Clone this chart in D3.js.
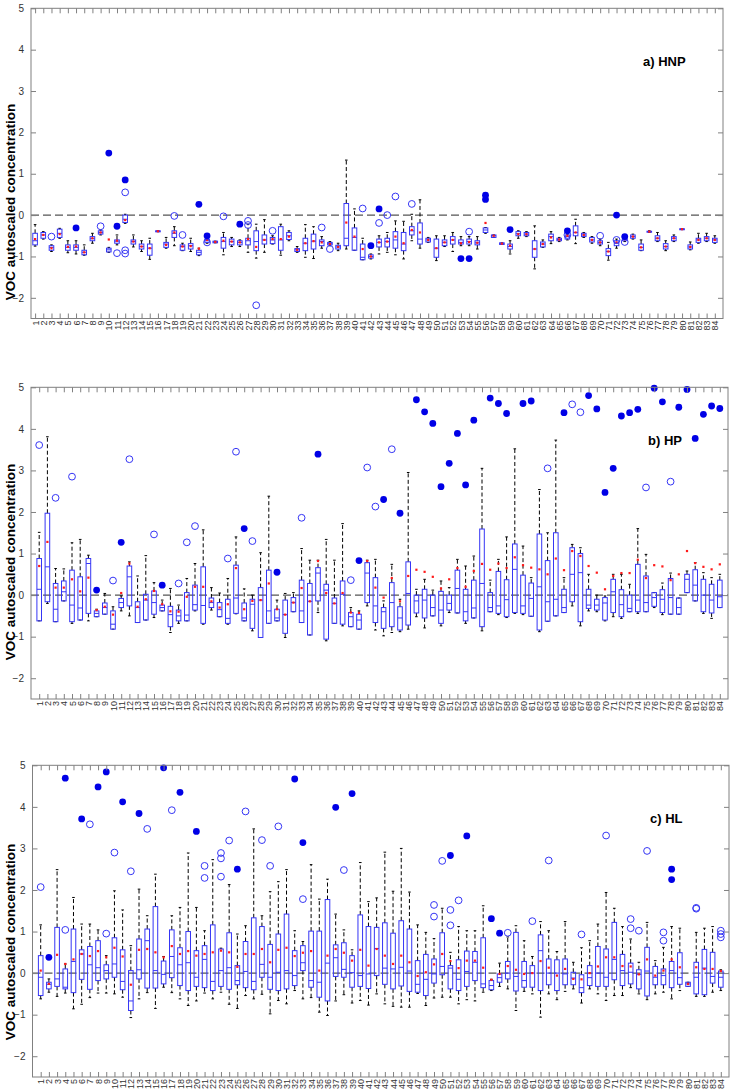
<!DOCTYPE html>
<html>
<head>
<meta charset="utf-8">
<script src="https://cdn.jsdelivr.net/npm/d3@7"></script>
<style>
  body { margin: 0; background: #fff; }
  svg { display: block; }
  text { font-family: "Liberation Sans", Arial, sans-serif; }
</style>
</head>
<body>
<svg id="chart" width="733" height="1092"></svg>
<script>
  // ============================================================
  // Data
  // ============================================================

  const categories = d3.range(1, 85);
  const yTicks = [-2, -1, 0, 1, 2, 3, 4, 5];

  // a) HNP
  const hnpLow = [-0.75,-0.58,-0.88,-0.56,-0.91,-0.94,-0.97,-0.68,-0.48,-0.90, -0.72,-0.20,-0.77,-0.88,-1.07,-0.40,-0.80,-0.74,-0.86,-0.88, -0.98,-0.68,-0.67,-0.96,-0.76,-0.76,-0.90,-1.04,-0.90,-0.70, -0.97,-0.62,-0.90,-1.02,-1.05,-0.80,-0.74,-0.86,-0.82,-0.85, -1.08,-1.06,-0.94,-0.90,-0.96,-1.06,-0.62,-0.80,-0.66,-1.10, -0.76,-0.88,-0.74,-0.74,-0.82,-0.44,-0.54,-0.71,-0.94,-0.56, -0.52,-1.30,-0.78,-0.69,-0.64,-0.60,-0.69,-0.54,-0.68,-0.74, -1.09,-0.80,-0.64,-0.58,-0.86,-0.42,-0.64,-0.86,-0.64,-0.35, -0.84,-0.68,-0.64,-0.68];
  const hnpQ1 = [-0.72,-0.56,-0.85,-0.54,-0.85,-0.85,-0.96,-0.62,-0.46,-0.89, -0.68,-0.18,-0.70,-0.82,-0.97,-0.39,-0.78,-0.54,-0.85,-0.82, -0.96,-0.66,-0.67,-0.80,-0.72,-0.72,-0.72,-0.86,-0.70,-0.69, -0.85,-0.59,-0.88,-0.86,-0.82,-0.74,-0.72,-0.82,-0.74,-0.85, -1.08,-1.04,-0.77,-0.77,-0.80,-0.86,-0.48,-0.70,-0.65,-1.02, -0.74,-0.70,-0.70,-0.70,-0.72,-0.42,-0.54,-0.71,-0.82,-0.50, -0.50,-1.02,-0.77,-0.62,-0.62,-0.58,-0.50,-0.52,-0.65,-0.70, -0.98,-0.74,-0.62,-0.56,-0.85,-0.41,-0.62,-0.82,-0.62,-0.35, -0.82,-0.66,-0.62,-0.66];
  const hnpMedian = [-0.62,-0.48,-0.78,-0.44,-0.78,-0.78,-0.90,-0.57,-0.42,-0.84, -0.63,-0.10,-0.64,-0.76,-0.80,-0.39,-0.70,-0.44,-0.76,-0.74, -0.90,-0.62,-0.65,-0.64,-0.64,-0.66,-0.62,-0.64,-0.60,-0.60, -0.60,-0.50,-0.84,-0.68,-0.63,-0.64,-0.69,-0.77,-0.56,-0.54, -1.02,-1.00,-0.66,-0.64,-0.60,-0.70,-0.38,-0.58,-0.60,-0.80, -0.66,-0.60,-0.66,-0.64,-0.67,-0.36,-0.50,-0.69,-0.76,-0.45, -0.46,-0.82,-0.70,-0.52,-0.59,-0.52,-0.42,-0.48,-0.60,-0.66, -0.88,-0.68,-0.58,-0.52,-0.78,-0.40,-0.56,-0.76,-0.56,-0.34, -0.77,-0.60,-0.56,-0.60];
  const hnpQ3 = [-0.44,-0.42,-0.74,-0.34,-0.72,-0.72,-0.85,-0.52,-0.38,-0.80, -0.60,0.00,-0.60,-0.70,-0.70,-0.38,-0.66,-0.38,-0.72,-0.69, -0.85,-0.58,-0.63,-0.54,-0.58,-0.62,-0.56,-0.38,-0.48,-0.54, -0.28,-0.42,-0.81,-0.56,-0.46,-0.60,-0.66,-0.73,0.28,-0.31, -0.70,-0.96,-0.58,-0.56,-0.40,-0.42,-0.28,-0.19,-0.56,-0.58, -0.60,-0.52,-0.60,-0.58,-0.62,-0.31,-0.48,-0.67,-0.70,-0.40, -0.42,-0.62,-0.65,-0.46,-0.56,-0.48,-0.26,-0.44,-0.54,-0.62, -0.81,-0.62,-0.55,-0.48,-0.70,-0.39,-0.50,-0.69,-0.52,-0.33, -0.72,-0.56,-0.52,-0.56];
  const hnpHigh = [-0.23,-0.40,-0.72,-0.32,-0.62,-0.62,-0.72,-0.44,-0.36,-0.78, -0.48,0.02,-0.48,-0.62,-0.56,-0.38,-0.54,-0.28,-0.68,-0.56, -0.80,-0.56,-0.63,-0.42,-0.54,-0.60,-0.22,-0.22,-0.11,-0.50, -0.22,-0.38,-0.76,-0.23,-0.28,-0.52,-0.64,-0.68,1.33,0.15, -0.56,-0.94,-0.50,-0.42,-0.14,-0.15,0.02,0.37,-0.54,-0.50, -0.50,-0.42,-0.52,-0.52,-0.52,-0.30,-0.48,-0.67,-0.62,-0.38, -0.40,-0.26,-0.60,-0.40,-0.54,-0.46,-0.10,-0.42,-0.52,-0.58, -0.66,-0.58,-0.54,-0.46,-0.60,-0.38,-0.42,-0.62,-0.48,-0.33, -0.65,-0.44,-0.44,-0.50];
  const hnpMean = [-0.58,-0.48,-0.80,-0.46,-0.77,-0.76,-0.90,-0.56,-0.42,-0.59, -0.62,-0.12,-0.64,-0.76,-0.80,-0.39,-0.72,-0.42,-0.76,-0.75, -0.81,-0.60,-0.65,-0.62,-0.64,-0.66,-0.58,-0.77,-0.60,-0.58, -0.58,-0.52,-0.84,-0.68,-0.63,-0.66,-0.70,-0.77,-0.18,-0.52, -0.82,-1.00,-0.66,-0.64,-0.52,-0.68,-0.36,-0.42,-0.60,-0.80, -0.66,-0.60,-0.68,-0.65,-0.67,-0.19,-0.50,-0.69,-0.74,-0.46, -0.46,-0.82,-0.70,-0.54,-0.59,-0.50,-0.42,-0.48,-0.60,-0.66, -0.88,-0.66,-0.58,-0.52,-0.78,-0.40,-0.56,-0.76,-0.56,-0.34, -0.77,-0.60,-0.56,-0.60];
  const hnpOutliers = [[3,-0.52],[9,-0.27],[11,-0.92],[12,0.55],[12,-0.85],[12,-0.93],[18,-0.02],[19,-0.48],[22,-0.66],[24,-0.03],[27,-0.14],[27,-0.24],[28,-2.18],[30,-0.38],[36,-0.30],[37,-0.82],[41,0.16],[43,-0.19],[44,0.0],[45,0.45],[47,0.27],[54,-0.40],[66,-0.48],[70,-0.50],[72,-0.60],[73,-0.65]];
  const hnpExtremes = [[6,-0.31],[10,1.50],[11,-0.27],[12,0.85],[21,0.26],[22,-0.50],[26,-0.22],[42,-0.74],[43,0.15],[53,-1.05],[54,-1.05],[56,0.48],[56,0.38],[59,-0.35],[66,-0.38],[72,0.0],[73,-0.52]];

  // b) HP
  const hpLow = [-0.62,-0.20,-0.64,-0.14,-0.68,-0.60,-0.62,-0.52,-0.46,-0.82, -0.38,-0.50,-0.66,-0.60,-0.54,-0.38,-0.90,-0.68,-0.62,-0.38, -0.70,-0.36,-0.52,-0.70,-0.45,-0.62,-0.86,-1.02,-0.68,-0.62, -1.02,-0.40,-0.66,-0.96,-0.42,-1.10,-0.68,-0.74,-0.76,-0.82, -0.26,-0.84,-0.98,-0.90,-0.88,-0.82,-0.52,-0.79,-0.50,-0.74, -0.42,-0.43,-0.68,-0.55,-0.86,-0.40,-0.47,-0.54,-0.44,-0.47, -0.51,-0.88,-0.63,-0.50,-0.42,-0.26,-0.74,-0.38,-0.40,-0.62, -0.52,-0.56,-0.40,-0.44,-0.40,-0.30,-0.47,-0.46,-0.46,0.06, -0.14,-0.44,-0.56,-0.30];
  const hpQ1 = [-0.62,-0.16,-0.64,-0.14,-0.64,-0.60,-0.44,-0.52,-0.46,-0.82, -0.30,-0.26,-0.66,-0.60,-0.46,-0.38,-0.76,-0.62,-0.62,-0.36, -0.68,-0.30,-0.52,-0.68,-0.44,-0.62,-0.80,-1.02,-0.68,-0.62, -0.92,-0.40,-0.66,-0.96,-0.14,-1.06,-0.68,-0.70,-0.76,-0.82, -0.18,-0.66,-0.80,-0.76,-0.84,-0.72,-0.43,-0.55,-0.50,-0.68, -0.36,-0.43,-0.62,-0.55,-0.76,-0.40,-0.44,-0.52,-0.42,-0.44, -0.51,-0.84,-0.63,-0.50,-0.42,-0.16,-0.64,-0.32,-0.36,-0.60, -0.42,-0.52,-0.40,-0.40,-0.40,-0.27,-0.42,-0.46,-0.46,0.06, -0.14,-0.40,-0.43,-0.30];
  const hpMedian = [0.14,0.68,-0.34,0.08,-0.24,-0.31,0.76,-0.44,-0.30,-0.70, -0.18,0.44,-0.30,-0.12,-0.18,-0.30,-0.47,-0.50,-0.48,-0.23, -0.25,-0.18,-0.35,-0.56,-0.07,-0.55,-0.22,-0.12,-0.38,-0.55, -0.47,-0.18,-0.38,-0.15,0.53,0.12,-0.20,0.02,-0.52,-0.60, 0.53,-0.26,-0.40,-0.18,-0.55,0.04,-0.14,-0.12,-0.30,-0.36, -0.20,0.16,-0.40,-0.31,0.28,-0.30,-0.26,-0.11,0.62,-0.26, -0.08,0.20,-0.16,-0.10,-0.30,0.50,0.54,-0.24,-0.24,-0.19, 0.08,-0.23,-0.32,-0.12,-0.18,-0.06,-0.10,-0.06,-0.30,0.38, 0.24,0.00,-0.12,-0.04];
  const hpQ3 = [0.88,1.97,0.28,0.34,0.60,0.44,0.88,-0.38,-0.19,-0.38, -0.08,0.70,-0.16,0.02,0.10,-0.24,-0.27,-0.36,0.06,0.24, 0.68,-0.07,-0.18,-0.10,0.72,-0.19,-0.10,0.18,0.60,-0.34, -0.12,-0.06,0.36,0.28,0.66,0.26,-0.07,0.34,-0.42,-0.46, 0.78,0.42,-0.30,0.30,-0.28,0.80,0.00,0.14,0.00,0.09, 0.00,0.60,0.14,0.36,1.59,0.06,0.57,0.37,1.23,0.48, 0.29,1.47,0.83,1.50,0.14,1.14,1.00,0.14,-0.10,-0.06, 0.38,0.13,0.00,0.74,0.46,0.06,0.13,0.40,-0.07,0.50, 0.61,0.38,0.26,0.36];
  const hpHigh = [1.51,3.81,0.64,0.63,1.26,1.34,0.96,-0.34,0.04,-0.28, -0.02,0.80,0.46,0.95,0.30,-0.12,0.16,-0.24,0.40,0.76, 1.57,0.18,0.05,0.40,1.40,0.15,0.00,1.02,2.38,-0.12, 0.04,0.06,1.12,0.84,0.84,1.34,0.84,1.72,-0.30,-0.38, 0.84,0.86,-0.14,0.74,-0.10,2.95,0.14,0.38,0.12,0.34, 0.18,0.86,0.70,0.94,3.05,0.36,0.86,1.40,3.52,1.18, 0.42,2.54,1.50,3.73,0.42,1.22,1.14,0.50,0.00,-0.02, 0.50,0.50,0.26,1.60,0.98,0.06,0.29,0.53,-0.07,0.58, 0.78,0.54,0.42,0.50];
  const hpMean = [0.70,1.28,0.18,0.18,0.38,0.09,0.42,-0.36,-0.28,-0.47, 0.05,0.76,-0.28,-0.10,0.10,-0.22,-0.39,-0.40,-0.04,0.20, 0.20,-0.15,-0.30,-0.22,0.65,-0.34,-0.14,-0.12,0.28,-0.34, -0.47,-0.18,0.17,-0.15,0.82,0.05,-0.20,0.05,-0.42,-0.43, 0.82,0.18,-0.06,0.41,-0.15,0.46,0.61,0.56,0.44,0.16, 0.38,0.65,0.20,0.58,0.75,0.61,0.76,0.65,0.91,0.72, 0.66,0.62,0.50,0.88,0.60,1.06,0.94,0.70,0.54,0.14, 0.46,0.53,0.53,0.85,0.41,0.72,0.69,0.36,0.50,1.06, 0.77,0.68,0.62,0.74];
  const hpOutliers = [[1,3.61],[3,2.34],[5,2.85],[10,0.35],[12,3.27],[15,1.46],[18,0.28],[19,1.27],[20,1.66],[24,0.88],[25,3.45],[27,1.30],[33,1.86],[39,0.36],[41,3.07],[42,2.13],[44,3.51],[63,3.05],[66,4.59],[67,4.40],[75,2.59],[78,2.73]];
  const hpExtremes = [[8,0.12],[11,1.27],[16,0.24],[26,1.60],[30,0.55],[35,3.39],[40,0.83],[43,2.30],[45,1.97],[47,4.70],[48,4.41],[49,4.13],[50,2.61],[51,3.17],[52,3.89],[53,2.65],[54,4.21],[56,4.74],[57,4.61],[58,4.37],[60,4.61],[61,4.67],[65,4.39],[68,4.80],[69,4.48],[70,2.47],[71,3.05],[72,4.31],[73,4.39],[74,4.47],[76,4.98],[77,4.65],[79,4.52],[80,4.95],[81,3.77],[82,4.35],[83,4.55],[84,4.49]];

  // c) HL
  const hlLow = [-0.62,-0.46,-0.56,-0.48,-0.86,-0.75,-0.59,-0.48,-0.48,-0.50, -0.58,-1.07,-0.62,-0.47,-0.85,-0.34,-0.47,-0.62,-0.78,-0.67, -0.48,-0.62,-0.46,-0.75,-0.85,-0.54,-0.62,-0.51,-0.98,-0.66, -0.74,-0.42,-0.62,-0.59,-0.94,-1.02,-0.67,-0.52,-0.72,-0.66, -0.77,-0.50,-0.74,-0.80,-0.82,-0.82,-0.49,-0.78,-0.60,-0.58, -0.58,-0.74,-0.64,-0.67,-0.46,-0.42,-0.32,-0.38,-0.90,-0.44, -0.50,-1.06,-0.50,-0.64,-0.44,-0.38,-0.72,-0.38,-0.50,-0.66, -0.54,-0.54,-0.35,-0.50,-0.64,-0.50,-0.46,-0.62,-0.42,-0.32, -0.56,-0.56,-0.46,-0.42];
  const hlQ1 = [-0.54,-0.38,-0.32,-0.38,-0.47,-0.15,-0.39,-0.18,-0.14,-0.10, -0.40,-0.90,-0.14,-0.36,-0.36,-0.26,-0.11,-0.30,-0.42,-0.32, -0.35,-0.42,-0.32,-0.39,-0.28,-0.35,-0.40,-0.10,-0.39,-0.42, -0.38,-0.30,0.06,-0.34,-0.58,-0.67,-0.08,-0.10,-0.34,-0.32, -0.37,-0.06,-0.27,-0.38,-0.31,-0.44,-0.46,-0.54,-0.24,-0.04, -0.38,-0.42,-0.32,-0.18,-0.35,-0.40,-0.22,-0.14,-0.43,-0.34, -0.34,-0.42,-0.28,-0.42,-0.28,-0.28,-0.47,-0.30,-0.32,-0.32, -0.16,-0.30,-0.26,-0.38,-0.55,-0.28,-0.28,-0.35,-0.27,-0.32, -0.50,-0.52,-0.24,-0.34];
  const hlMedian = [-0.10,-0.27,-0.14,-0.34,0.28,0.46,0.20,0.13,0.06,0.22, -0.20,-0.67,0.08,0.78,0.06,-0.03,0.40,0.20,0.25,-0.10, 0.33,-0.20,0.06,0.13,-0.18,0.04,-0.20,0.21,-0.10,0.02, 0.06,-0.06,0.25,-0.18,-0.22,0.24,0.37,0.09,0.01,-0.06, -0.02,0.59,0.12,0.10,0.14,0.05,-0.27,-0.15,-0.02,0.16, 0.12,-0.15,0.04,0.26,-0.26,-0.30,-0.11,0.00,-0.08,-0.18, 0.00,0.54,0.00,0.00,-0.02,-0.12,-0.35,-0.11,0.00,-0.10, 0.33,0.06,0.02,-0.03,0.05,-0.10,-0.06,0.06,-0.11,-0.26, -0.10,0.12,-0.08,-0.10];
  const hlQ3 = [0.42,-0.22,1.10,0.10,1.06,0.56,0.64,0.78,0.20,0.85, 0.56,0.06,0.82,1.06,1.60,0.29,1.04,0.61,1.00,0.54, 0.66,1.16,0.58,0.97,0.18,0.76,1.33,1.12,0.69,0.94, 1.42,0.54,0.66,1.01,1.01,1.77,0.68,0.73,0.42,1.40, 1.12,1.10,1.21,0.96,1.26,1.06,0.30,0.45,0.34,0.97, 0.18,0.32,0.53,0.52,0.85,-0.18,-0.02,0.28,0.98,0.28, 0.18,0.92,0.34,0.32,0.34,0.02,-0.04,0.18,0.64,0.58, 1.22,0.45,0.24,0.08,0.62,0.16,0.10,0.28,0.49,-0.22, 0.26,0.57,0.50,0.05];
  const hlHigh = [1.16,-0.14,2.49,0.22,1.82,1.18,1.18,1.04,0.42,1.98, 1.52,0.66,2.02,1.38,2.38,0.40,1.38,1.58,2.89,1.58, 1.02,2.73,0.60,2.13,0.94,1.14,3.47,1.38,1.96,2.20, 2.49,1.02,0.76,2.61,1.78,2.26,1.42,1.04,0.56,2.66, 1.72,1.81,2.91,1.97,3.00,1.95,1.16,0.98,0.83,1.56, 0.50,1.12,1.02,1.02,1.62,-0.15,0.24,0.87,1.14,0.78, 0.40,1.24,1.02,0.52,1.24,0.26,0.61,0.78,1.18,1.94, 1.56,1.12,0.82,0.26,1.22,0.30,0.62,1.12,1.08,-0.22, 0.98,1.08,1.12,0.08];
  const hlMean = [0.06,-0.26,0.44,0.22,0.33,0.46,0.41,0.53,0.38,0.61, 0.40,-0.28,0.56,0.58,0.50,0.38,0.65,0.46,0.53,0.42, 0.46,0.50,0.54,0.50,0.15,0.46,0.46,0.58,0.26,0.56, 0.61,0.41,0.49,0.53,0.06,0.42,0.58,0.49,0.30,0.56, 0.18,0.58,0.42,0.22,0.42,0.26,-0.07,0.02,0.21,0.46, 0.29,0.12,0.30,0.30,0.13,-0.16,-0.02,0.17,0.08,-0.02, 0.00,0.29,0.13,-0.06,0.10,-0.14,-0.15,0.00,0.16,0.38, 0.38,0.17,0.16,-0.03,0.33,-0.06,0.06,0.33,0.14,-0.26, 0.14,0.10,0.10,0.05];
  const hlOutliers = [[1,2.07],[4,1.04],[7,3.58],[9,0.95],[10,2.90],[12,2.45],[14,3.47],[17,3.92],[21,2.58],[21,2.29],[23,2.89],[23,2.76],[23,2.32],[24,3.19],[26,3.89],[28,3.20],[29,2.58],[30,3.53],[33,1.78],[38,2.48],[49,1.64],[49,1.36],[50,2.70],[51,1.52],[51,1.15],[52,1.75],[58,0.97],[61,1.25],[63,2.71],[67,0.93],[70,3.31],[73,1.30],[73,1.08],[74,1.02],[75,2.94],[77,0.98],[77,0.78],[81,1.57],[81,1.55],[84,1.02],[84,0.94],[84,0.86]];
  const hlExtremes = [[2,0.38],[4,4.69],[6,3.71],[8,4.48],[9,4.84],[11,4.12],[13,3.84],[16,4.94],[18,4.35],[20,3.41],[25,2.50],[32,4.67],[33,3.14],[37,3.99],[39,4.32],[51,2.83],[53,3.30],[56,1.31],[57,0.96],[78,2.50],[78,2.25]];

  // ============================================================
  // Layout
  // ============================================================

  const panels = [
    { title: "a) HNP", top: 8.3, bottom: 318.5, left: 31, right: 723, xDomain: [0.5, 85], titleX: 643, titleY: 66, labelY: 202,
      low: hnpLow, q1: hnpQ1, median: hnpMedian, q3: hnpQ3, high: hnpHigh, mean: hnpMean, outliers: hnpOutliers, extremes: hnpExtremes },
    { title: "b) HP", top: 387.3, bottom: 699, left: 31, right: 728, xDomain: [0, 85], titleX: 648, titleY: 445, labelY: 562,
      low: hpLow, q1: hpQ1, median: hpMedian, q3: hpQ3, high: hpHigh, mean: hpMean, outliers: hpOutliers, extremes: hpExtremes },
    { title: "c) HL", top: 765.3, bottom: 1077, left: 32.5, right: 729, xDomain: [0, 85], titleX: 650, titleY: 823, labelY: 942,
      low: hlLow, q1: hlQ1, median: hlMedian, q3: hlQ3, high: hlHigh, mean: hlMean, outliers: hlOutliers, extremes: hlExtremes },
  ];

  const boxColor = "#3535f5";
  const frameColor = "#808080";
  const boxHalf = 2.3;
  const capHalf = 1.3;

  const svg = d3.select("#chart");

  function drawPanel(p) {
    const x = d3.scaleLinear().domain(p.xDomain).range([p.left, p.right]);
    const y = d3.scaleLinear().domain([-2.5, 5]).range([p.bottom, p.top]);
    const g = svg.append("g");

    const stats = categories.map((c, i) => ({
      c, lo: p.low[i], q1: p.q1[i], med: p.median[i], q3: p.q3[i], hi: p.high[i], mean: p.mean[i],
    }));

    // zero reference line
    g.append("line")
      .attr("x1", p.left).attr("x2", p.right)
      .attr("y1", y(0)).attr("y2", y(0))
      .attr("stroke", "#555").attr("stroke-width", 1.3)
      .attr("stroke-dasharray", "8,4");

    const box = g.selectAll(".box").data(stats).enter()
      .append("g").attr("class", "box");

    // whiskers
    box.append("line")
      .attr("x1", d => x(d.c)).attr("x2", d => x(d.c))
      .attr("y1", d => y(d.q3)).attr("y2", d => y(d.hi))
      .attr("stroke", "#000").attr("stroke-width", 1).attr("stroke-dasharray", "4,2.5");
    box.append("line")
      .attr("x1", d => x(d.c)).attr("x2", d => x(d.c))
      .attr("y1", d => y(d.q1)).attr("y2", d => y(d.lo))
      .attr("stroke", "#000").attr("stroke-width", 1).attr("stroke-dasharray", "4,2.5");
    ["hi", "lo"].forEach(k => {
      box.append("line")
        .attr("x1", d => x(d.c) - capHalf).attr("x2", d => x(d.c) + capHalf)
        .attr("y1", d => y(d[k])).attr("y2", d => y(d[k]))
        .attr("stroke", "#000").attr("stroke-width", 1);
    });

    // boxes
    box.append("rect")
      .attr("x", d => x(d.c) - boxHalf)
      .attr("y", d => y(d.q3))
      .attr("width", boxHalf * 2)
      .attr("height", d => Math.max(1, y(d.q1) - y(d.q3)))
      .attr("fill", "none").attr("stroke", boxColor).attr("stroke-width", 1);

    // medians
    box.append("line")
      .attr("x1", d => x(d.c) - boxHalf).attr("x2", d => x(d.c) + boxHalf)
      .attr("y1", d => y(d.med)).attr("y2", d => y(d.med))
      .attr("stroke", boxColor).attr("stroke-width", 1);

    // means
    box.append("rect")
      .attr("x", d => x(d.c) - 1.1).attr("y", d => y(d.mean) - 1.1)
      .attr("width", 2.2).attr("height", 2.2)
      .attr("fill", "#ff1a1a");

    // outliers
    g.selectAll(".outlier").data(p.outliers).enter()
      .append("circle").attr("class", "outlier")
      .attr("cx", d => x(d[0])).attr("cy", d => y(d[1]))
      .attr("r", 3.4).attr("fill", "none")
      .attr("stroke", boxColor).attr("stroke-width", 1);
    g.selectAll(".extreme").data(p.extremes).enter()
      .append("circle").attr("class", "extreme")
      .attr("cx", d => x(d[0])).attr("cy", d => y(d[1]))
      .attr("r", 3.4).attr("fill", "#0000e6");

    // axes
    const axisStyle = sel => {
      sel.select(".domain").remove();
      sel.selectAll(".tick line").attr("stroke", frameColor);
      sel.selectAll(".tick text").attr("fill", "#333").attr("font-size", 10)
        .attr("font-family", "Liberation Sans, Arial, sans-serif");
    };

    g.append("g").attr("transform", `translate(${p.left},0)`)
      .call(d3.axisLeft(y).tickValues(yTicks).tickSize(-5).tickSizeOuter(0).tickPadding(7))
      .call(axisStyle);
    g.append("g").attr("transform", `translate(${p.right},0)`)
      .call(d3.axisRight(y).tickValues(yTicks).tickSize(-5).tickSizeOuter(0).tickFormat(""))
      .call(axisStyle);
    g.append("g").attr("transform", `translate(0,${p.top})`)
      .call(d3.axisTop(x).tickValues(categories).tickSize(-5).tickSizeOuter(0).tickFormat(""))
      .call(axisStyle);
    g.append("g").attr("transform", `translate(0,${p.bottom})`)
      .call(d3.axisBottom(x).tickValues(categories).tickSize(-5).tickSizeOuter(0))
      .call(axisStyle)
      .call(sel => sel.selectAll(".tick text")
        .attr("font-size", 9)
        .attr("transform", "rotate(-90)")
        .attr("text-anchor", "end")
        .attr("x", -2).attr("y", 0).attr("dy", "0.34em"));

    // frame
    g.append("rect")
      .attr("x", p.left).attr("y", p.top)
      .attr("width", p.right - p.left).attr("height", p.bottom - p.top)
      .attr("fill", "none").attr("stroke", frameColor).attr("stroke-width", 1);

    // texts
    g.append("text")
      .attr("x", p.titleX).attr("y", p.titleY)
      .attr("font-size", 13).attr("font-weight", "bold").attr("fill", "#000")
      .text(p.title);
    g.append("text")
      .attr("transform", `translate(15,${p.labelY}) rotate(-90)`)
      .attr("text-anchor", "middle")
      .attr("font-size", 13.5).attr("font-weight", "bold").attr("fill", "#000")
      .text("VOC autoscaled concentration");
  }

  panels.forEach(drawPanel);
</script>
</body>
</html>
